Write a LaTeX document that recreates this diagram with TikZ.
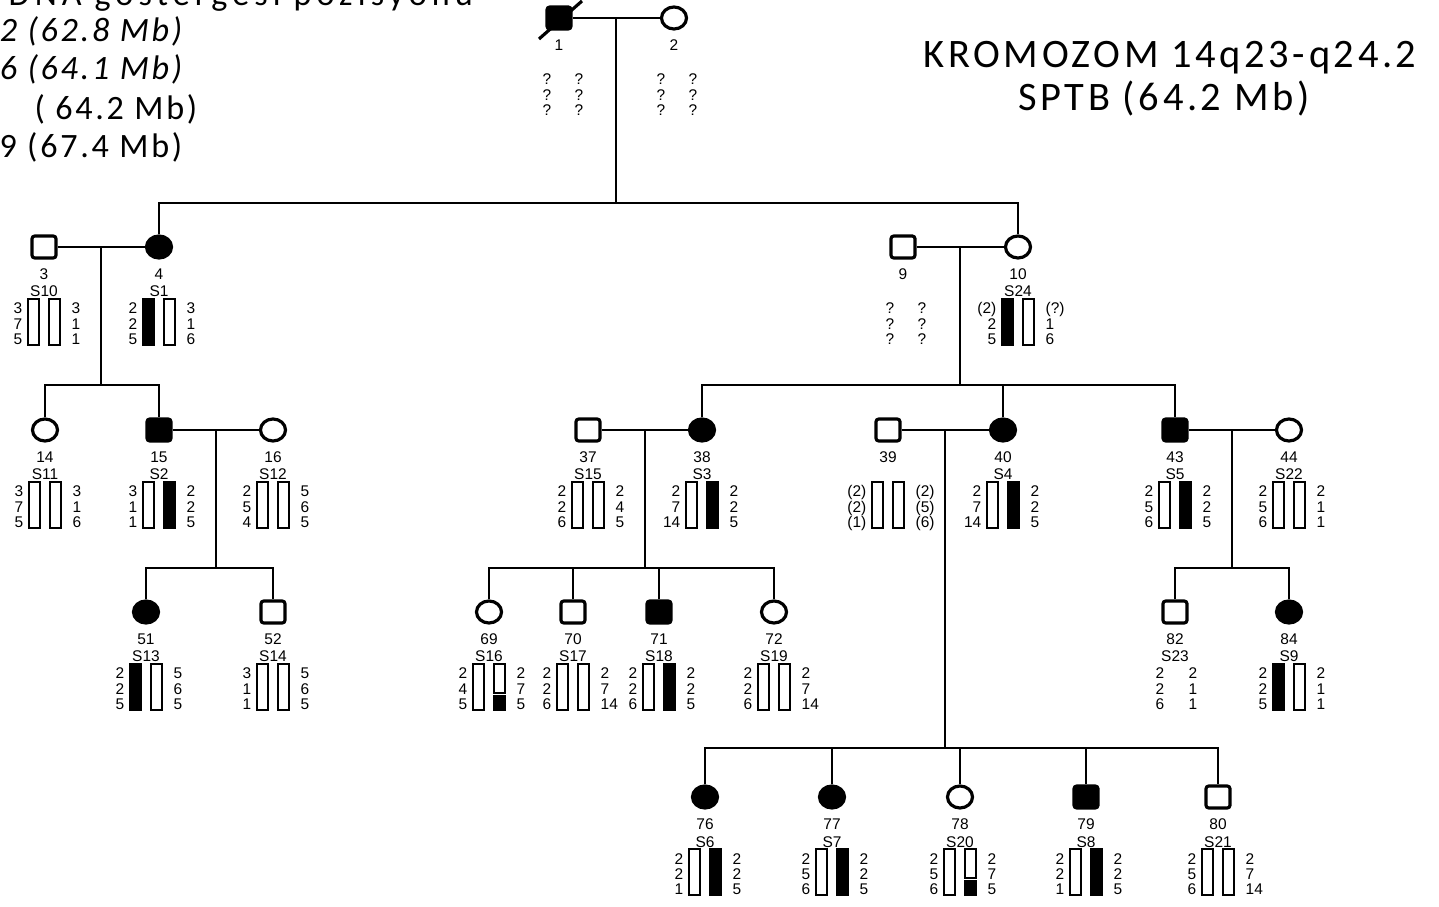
\documentclass[tikz,border=0pt]{standalone}
\usepackage{fontspec}
\setmainfont{Liberation Sans}
\newfontfamily\headfont{Carlito}[LetterSpace=9]
\newfontfamily\notefont{Carlito}[LetterSpace=8]
\newfontfamily\titlefont{Carlito}[LetterSpace=15]
\usetikzlibrary{shapes.geometric,calc}

% one column of alleles below a symbol
\newcommand{\allelecol}[4]{%
  \foreach \val [count=\row] in {#4}
    \node[allele, anchor=#3] at ({#1},{#2+51.5+15.5*\row}) {\val};}
% two haplotype bars with their alleles
\newcommand{\haplo}[6]{%
  \draw[#3] ({#1-16},{#2+52}) rectangle ({#1-5},{#2+98});
  \draw[#4] ({#1+5},{#2+52}) rectangle ({#1+16},{#2+98});
  \allelecol{#1-21}{#2}{base east}{#5}
  \allelecol{#1+27}{#2}{base west}{#6}}
% pedigree member with number and sample label
\newcommand{\member}[6]{%
  \node[#4] (#1) at (#2,#3) {};
  \node[idlbl] (#1n) at (#2,{#3+33}) {#5};
  \node[idlbl] (#1s) at (#2,{#3+50}) {#6};}

\begin{document}
\begin{tikzpicture}[x=0.01cm, y=-0.01cm,
    male/.style={draw, line width=0.9pt, rounded corners=0.8pt,
      minimum width=0.24cm, minimum height=0.22cm, inner sep=0},
    female/.style={ellipse, draw, line width=0.9pt,
      minimum width=0.25cm, minimum height=0.22cm, inner sep=0},
    affected/.style={fill=black},
    rel/.style={line width=0.7pt},
    openbar/.style={draw, line width=0.45pt, fill=white},
    fullbar/.style={draw, line width=0.45pt, fill=black},
    allele/.style={font=\fontsize{4.4}{5}\selectfont, inner sep=0},
    idlbl/.style={allele, anchor=base},
    note/.style={font=\notefont\fontsize{9.7}{11}\selectfont, inner sep=0},
    head/.style={font=\headfont\fontsize{11.5}{13}\selectfont, inner sep=0}]
  \useasboundingbox (0,0) rectangle (1439,907);

  % texts
  \node[font=\titlefont\fontsize{9.7}{11}\selectfont, inner sep=0,
        anchor=base west] (title) at (8,6) {DNA göstergesi pozisyonu};
  \node[note, anchor=base east] (mk1) at (183,42) {\itshape 2 (62.8 Mb)};
  \node[note, anchor=base east] (mk2) at (183,80) {\itshape 6 (64.1 Mb)};
  \node[note, anchor=base east] (mk3) at (198,120) {( 64.2 Mb)};
  \node[note, anchor=base east] (mk4) at (183,158) {9 (67.4 Mb)};
  \node[head, anchor=base] (chr) at (1170,68) {KROMOZOM 14q23-q24.2};
  \node[head, anchor=base] (gene) at (1164,111) {SPTB (64.2 Mb)};

  % generation I
  \member{p1}{559}{18}{male, affected}{1}{}
  \member{p2}{674}{18}{female}{2}{}
  \draw[line width=0.9pt] ($(p1.center)+(-20,21)$) -- ($(p1.center)+(23,-17)$);
  \allelecol{547}{18}{base}{?,?,?}
  \allelecol{579}{18}{base}{?,?,?}
  \allelecol{661}{18}{base}{?,?,?}
  \allelecol{693}{18}{base}{?,?,?}

  % generation II
  \member{p3}{44}{247}{male}{3}{S10}
  \member{p4}{159}{247}{female, affected}{4}{S1}
  \member{p9}{903}{247}{male}{9}{}
  \member{p10}{1018}{247}{female}{10}{S24}
  \haplo{44}{247}{openbar}{openbar}{3,7,5}{3,1,1}
  \haplo{159}{247}{fullbar}{openbar}{2,2,5}{3,1,6}
  \allelecol{890}{247}{base}{?,?,?}
  \allelecol{922}{247}{base}{?,?,?}
  \haplo{1018}{247}{fullbar}{openbar}{(2),2,5}{(?),1,6}

  % generation III
  \member{p14}{45}{430}{female}{14}{S11}
  \member{p15}{159}{430}{male, affected}{15}{S2}
  \member{p16}{273}{430}{female}{16}{S12}
  \member{p37}{588}{430}{male}{37}{S15}
  \member{p38}{702}{430}{female, affected}{38}{S3}
  \member{p39}{888}{430}{male}{39}{}
  \member{p40}{1003}{430}{female, affected}{40}{S4}
  \member{p43}{1175}{430}{male, affected}{43}{S5}
  \member{p44}{1289}{430}{female}{44}{S22}
  \haplo{45}{430}{openbar}{openbar}{3,7,5}{3,1,6}
  \haplo{159}{430}{openbar}{fullbar}{3,1,1}{2,2,5}
  \haplo{273}{430}{openbar}{openbar}{2,5,4}{5,6,5}
  \haplo{588}{430}{openbar}{openbar}{2,2,6}{2,4,5}
  \haplo{702}{430}{openbar}{fullbar}{2,7,14}{2,2,5}
  \haplo{888}{430}{openbar}{openbar}{(2),(2),(1)}{(2),(5),(6)}
  \haplo{1003}{430}{openbar}{fullbar}{2,7,14}{2,2,5}
  \haplo{1175}{430}{openbar}{fullbar}{2,5,6}{2,2,5}
  \haplo{1289}{430}{openbar}{openbar}{2,5,6}{2,1,1}

  % generation IV
  \member{p51}{146}{612}{female, affected}{51}{S13}
  \member{p52}{273}{612}{male}{52}{S14}
  \member{p69}{489}{612}{female}{69}{S16}
  \member{p70}{573}{612}{male}{70}{S17}
  \member{p71}{659}{612}{male, affected}{71}{S18}
  \member{p72}{774}{612}{female}{72}{S19}
  \member{p82}{1175}{612}{male}{82}{S23}
  \member{p84}{1289}{612}{female, affected}{84}{S9}
  \haplo{146}{612}{fullbar}{openbar}{2,2,5}{5,6,5}
  \haplo{273}{612}{openbar}{openbar}{3,1,1}{5,6,5}
  \haplo{489}{612}{openbar}{draw=none}{2,4,5}{2,7,5}
  \draw[openbar] (494,664) rectangle (505,693);
  \draw[fullbar] (494,696) rectangle (505,710);
  \haplo{573}{612}{openbar}{openbar}{2,2,6}{2,7,14}
  \haplo{659}{612}{openbar}{fullbar}{2,2,6}{2,2,5}
  \haplo{774}{612}{openbar}{openbar}{2,2,6}{2,7,14}
  \allelecol{1160}{612}{base}{2,2,6}
  \allelecol{1193}{612}{base}{2,1,1}
  \haplo{1289}{612}{fullbar}{openbar}{2,2,5}{2,1,1}

  % generation V
  \member{p76}{705}{797}{female, affected}{76}{S6}
  \member{p77}{832}{797}{female, affected}{77}{S7}
  \member{p78}{960}{797}{female}{78}{S20}
  \member{p79}{1086}{797}{male, affected}{79}{S8}
  \member{p80}{1218}{797}{male}{80}{S21}
  \haplo{705}{797}{openbar}{fullbar}{2,2,1}{2,2,5}
  \haplo{832}{797}{openbar}{fullbar}{2,5,6}{2,2,5}
  \haplo{960}{797}{openbar}{draw=none}{2,5,6}{2,7,5}
  \draw[openbar] (965,849) rectangle (976,878);
  \draw[fullbar] (965,881) rectangle (976,895);
  \haplo{1086}{797}{openbar}{fullbar}{2,2,1}{2,2,5}
  \haplo{1218}{797}{openbar}{openbar}{2,5,6}{2,7,14}

  % marriages and descent lines
  \coordinate (m12) at ($(p1.east)!0.5!(p2.west)$);
  \coordinate (m34) at ($(p3.east)!0.5!(p4.west)$);
  \coordinate (m910) at ($(p9.east)!0.5!(p10.west)$);
  \coordinate (m1516) at ($(p15.east)!0.5!(p16.west)$);
  \coordinate (m3738) at ($(p37.east)!0.5!(p38.west)$);
  \coordinate (m3940) at ($(p39.east)!0.5!(p40.west)$);
  \coordinate (m4344) at ($(p43.east)!0.5!(p44.west)$);
  \draw[rel] (p1.east) -- (p2.west);
  \draw[rel] (m12) -- (m12 |- 0,203);
  \draw[rel] (p4.north) -- (p4.north |- 0,203) -- (p10.north |- 0,203) -- (p10.north);
  \draw[rel] (p3.east) -- (p4.west);
  \draw[rel] (m34) -- (m34 |- 0,385);
  \draw[rel] (p14.north) -- (p14.north |- 0,385) -- (p15.north |- 0,385) -- (p15.north);
  \draw[rel] (p9.east) -- (p10.west);
  \draw[rel] (m910) -- (m910 |- 0,385);
  \draw[rel] (p38.north) -- (p38.north |- 0,385) -- (p43.north |- 0,385) -- (p43.north);
  \draw[rel] (p40.north) -- (p40.north |- 0,385);
  \draw[rel] (p15.east) -- (p16.west);
  \draw[rel] (m1516) -- (m1516 |- 0,568);
  \draw[rel] (p51.north) -- (p51.north |- 0,568) -- (p52.north |- 0,568) -- (p52.north);
  \draw[rel] (p37.east) -- (p38.west);
  \draw[rel] (m3738) -- (m3738 |- 0,568);
  \draw[rel] (p69.north) -- (p69.north |- 0,568) -- (p72.north |- 0,568) -- (p72.north);
  \draw[rel] (p70.north) -- (p70.north |- 0,568);
  \draw[rel] (p71.north) -- (p71.north |- 0,568);
  \draw[rel] (p39.east) -- (p40.west);
  \draw[rel] (m3940) -- (m3940 |- 0,748);
  \draw[rel] (p76.north) -- (p76.north |- 0,748) -- (p80.north |- 0,748) -- (p80.north);
  \draw[rel] (p77.north) -- (p77.north |- 0,748);
  \draw[rel] (p78.north) -- (p78.north |- 0,748);
  \draw[rel] (p79.north) -- (p79.north |- 0,748);
  \draw[rel] (p43.east) -- (p44.west);
  \draw[rel] (m4344) -- (m4344 |- 0,568);
  \draw[rel] (p82.north) -- (p82.north |- 0,568) -- (p84.north |- 0,568) -- (p84.north);
\end{tikzpicture}
\end{document}
